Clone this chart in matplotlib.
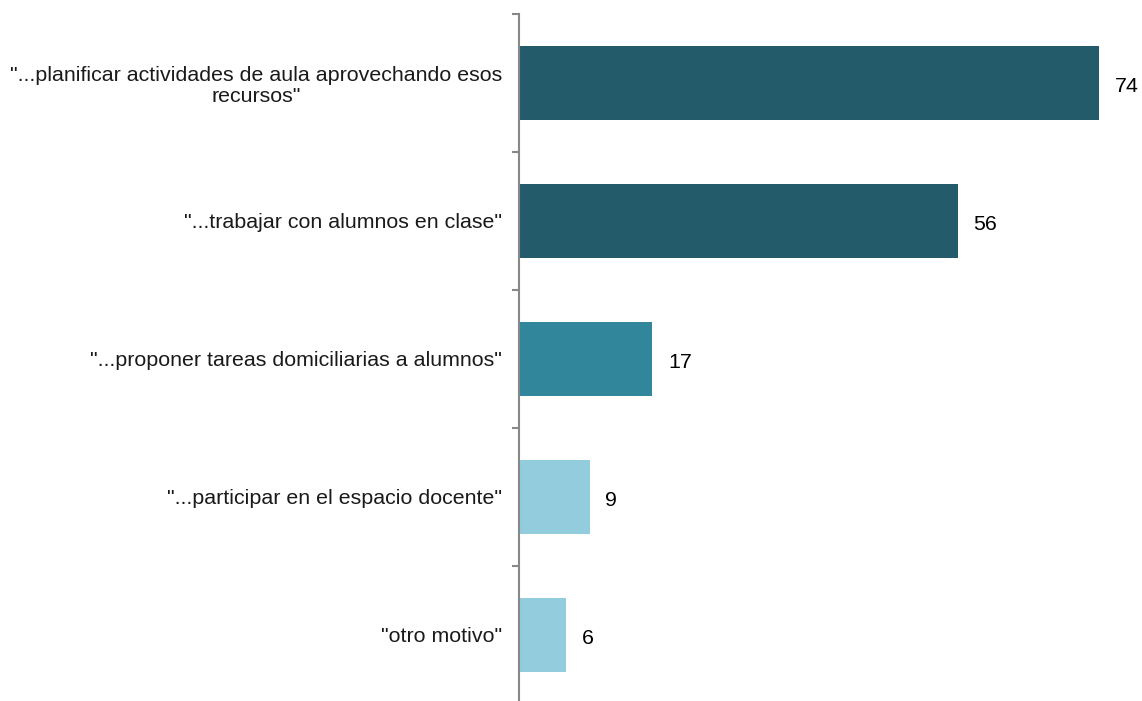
import matplotlib
matplotlib.use("Agg")
import matplotlib.pyplot as plt
import matplotlib.transforms as mtransforms

categories = [
    '"...planificar actividades de aula aprovechando esos\nrecursos"',
    '"...trabajar con alumnos en clase"',
    '"...proponer tareas domiciliarias a alumnos"',
    '"...participar en el espacio docente"',
    '"otro motivo"',
]
values = [74, 56, 17, 9, 6]
colors = ["#245B6A", "#245B6A", "#31869C", "#93CDDD", "#93CDDD"]

plt.rcParams['font.family'] = ['Liberation Sans', 'DejaVu Sans']

W, H = 1142, 701
fig = plt.figure(figsize=(W / 100, H / 100), dpi=100)
ax = fig.add_axes([519 / W, (H - 704) / H, 611 / W, 690 / H])

y = list(range(len(categories)))
ax.barh(y, values, height=0.53, color=colors, zorder=2)
ax.set_ylim(len(categories) - 0.5, -0.5)
ax.set_xlim(0, 78)

for yi, v in zip(y, values):
    ax.annotate(str(v), xy=(v, yi), xytext=(11.5, -2.2), textcoords="offset points",
                ha="left", va="center", fontsize=15.4, color="#000000")

ax.set_yticks([i - 0.5 for i in range(len(categories) + 1)])
ax.set_yticklabels([])
ax.set_yticks(y, minor=True)
ax.set_yticklabels(categories, minor=True, fontsize=15.4, color="#1a1a1a")
shift = mtransforms.ScaledTranslation(0, -2 / 100, fig.dpi_scale_trans)
for t in ax.get_yticklabels(minor=True):
    t.set_multialignment("center")
    t.set_linespacing(1.15)
    t.set_transform(t.get_transform() + shift)
ax.tick_params(axis="y", which="minor", length=0, pad=12)
ax.tick_params(axis="y", which="major", length=5, width=1.5, color="#888888", direction="out")

ax.set_xticks([])
for s in ["top", "right", "bottom"]:
    ax.spines[s].set_visible(False)
ax.spines["left"].set_color("#888888")
ax.spines["left"].set_linewidth(1.5)
ax.spines["left"].set_zorder(3)

fig.savefig("out.png", dpi=100)
